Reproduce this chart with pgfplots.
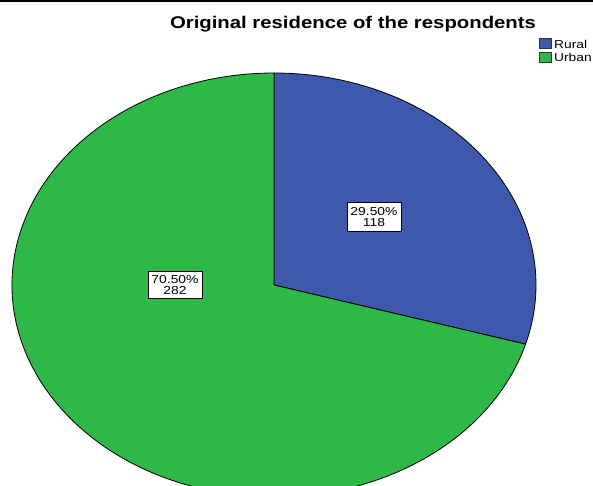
\documentclass[border=0pt]{standalone}
\usepackage{fontspec}
\setmainfont{Liberation Sans}[FakeStretch=1.2]
\newfontfamily\titlefont{Liberation Sans}[FakeStretch=1.2,BoldFont={Liberation Sans Bold}]
\usepackage{pgfplots}
\usepackage{pgfplotstable}
\pgfplotsset{compat=1.18}
\definecolor{rural}{HTML}{3E58AC}
\definecolor{urban}{HTML}{2EB848}
\pgfplotstableread{
label count pct
Rural 118 29.50
Urban 282 70.50
}\piedata
\begin{document}
\begin{tikzpicture}
\pgfplotstablegetelem{0}{count}\of\piedata \let\cA\pgfplotsretval
\pgfplotstablegetelem{1}{count}\of\piedata \let\cB\pgfplotsretval
\pgfplotstablegetelem{0}{pct}\of\piedata \let\pA\pgfplotsretval
\pgfplotstablegetelem{1}{pct}\of\piedata \let\pB\pgfplotsretval
\pgfmathsetmacro{\fracA}{\cA/(\cA+\cB)}
\pgfmathsetmacro{\fracB}{\cB/(\cA+\cB)}
\pgfmathsetmacro{\angA}{90-360*\fracA}
\pgfmathsetmacro{\angB}{\angA-360*\fracB}
\begin{axis}[at={(0,0)},anchor=south west,scale only axis,
  width=593bp,height=486bp,xmin=0,xmax=593,ymin=0,ymax=486,
  y dir=reverse,hide axis,clip=true]
% pie slices (centre 274,285; radii 262 x 212 px)
\filldraw[fill=rural,draw=black,line width=0.8bp,line join=round]
  (axis cs:274,285) -- (axis cs:274,73)
  arc[start angle=90,end angle=\angA,x radius=262bp,y radius=212bp] -- cycle;
\filldraw[fill=urban,draw=black,line width=0.8bp,line join=round]
  (axis cs:274,285) -- ++(\angA:262bp and 212bp)
  arc[start angle=\angA,end angle=\angB,x radius=262bp,y radius=212bp] -- cycle;
% value labels
\node[draw=black,fill=white,line width=0.6bp,inner xsep=2bp,inner ysep=1bp,
  align=center,font=\fontsize{11.6}{11.6}\selectfont,minimum width=54bp,minimum height=29bp]
  at (axis cs:374,217) {\pA\%\\\cA};
\node[draw=black,fill=white,line width=0.6bp,inner xsep=2bp,inner ysep=1bp,
  align=center,font=\fontsize{11.6}{11.6}\selectfont,minimum width=54bp,minimum height=27bp]
  at (axis cs:175,285) {\pB\%\\\cB};
% title
\node[anchor=base,font=\titlefont\bfseries\fontsize{17}{20}\selectfont]
  at (axis cs:353,29) {Original residence of the respondents};
% legend
\filldraw[fill=rural,draw=black!80,line width=0.6bp] (axis cs:539,38.5) rectangle (axis cs:551,48.5);
\filldraw[fill=urban,draw=black!80,line width=0.6bp] (axis cs:539,52) rectangle (axis cs:551,62);
\node[anchor=base west,inner sep=0pt,font=\fontsize{11.5}{12}\selectfont] at (axis cs:554,48.5) {Rural};
\node[anchor=base west,inner sep=0pt,font=\fontsize{11.5}{12}\selectfont] at (axis cs:554,62) {Urban};
% top rule
\draw[black,line width=2bp] (axis cs:0,1) -- (axis cs:593,1);
\end{axis}
\pgfresetboundingbox
\useasboundingbox (0,0) rectangle (593bp,486bp);
\end{tikzpicture}
\end{document}
